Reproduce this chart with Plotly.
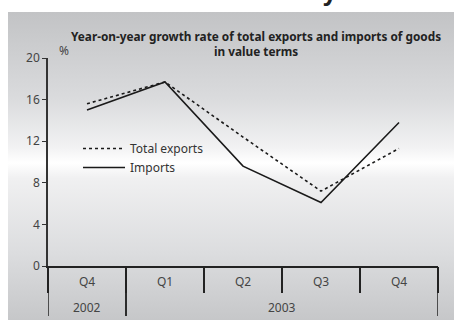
import plotly.graph_objects as go
import urllib.parse

years = ["2002", "2003", "2003", "2003", "2003"]
quarters = ["Q4", "Q1", "Q2", "Q3", "Q4"]
total_exports = [15.6, 17.7, 12.4, 7.2, 11.3]
imports = [15.0, 17.7, 9.6, 6.1, 13.8]
y_ticks = [0, 4, 8, 12, 16, 20]

W, H = 454, 320
L, R, T, B = 48, 16, 58, 54
pw, ph = W - L - R, H - T - B

svg = ("<svg xmlns='http://www.w3.org/2000/svg' width='446' height='308' preserveAspectRatio='none'>"
       "<defs><linearGradient id='g' x1='0' y1='0' x2='0' y2='1'>"
       "<stop offset='0' stop-color='#c2c3c5'/>"
       "<stop offset='0.28' stop-color='#dadbdd'/>"
       "<stop offset='0.44' stop-color='#f2f2f3'/>"
       "<stop offset='0.49' stop-color='#ffffff'/>"
       "<stop offset='0.54' stop-color='#f0f0f1'/>"
       "<stop offset='0.78' stop-color='#dcdddf'/>"
       "<stop offset='1' stop-color='#c6c7c9'/>"
       "</linearGradient></defs><rect width='446' height='308' fill='url(#g)'/></svg>")
src = "data:image/svg+xml;charset=utf-8," + urllib.parse.quote(svg)

font = "Noto Sans"
pos = list(range(len(quarters)))
bounds = [p - 0.5 for p in pos] + [pos[-1] + 0.5]

# year groups
groups = []
for i, yr in enumerate(years):
    if groups and groups[-1][0] == yr:
        groups[-1][2] = i
    else:
        groups.append([yr, i, i])

fig = go.Figure()
fig.add_trace(go.Scatter(x=pos, y=total_exports, mode="lines", name="Total exports",
                         line=dict(color="#1a1a1a", width=1.6, dash="dot")))
fig.add_trace(go.Scatter(x=pos, y=imports, mode="lines", name="Imports",
                         line=dict(color="#1a1a1a", width=1.6)))
# invisible trace to activate the boundary-tick axis
fig.add_trace(go.Scatter(x=[bounds[0]], y=[0], xaxis="x2", mode="markers",
                         marker=dict(opacity=0), showlegend=False, hoverinfo="skip"))

shapes = []
for yr, a, b in groups:
    for xb in (a - 0.5, b + 0.5):
        shapes.append(dict(type="line", xref="x", yref="paper", x0=xb, x1=xb,
                           y0=0, y1=(266 - 316) / ph, line=dict(color="#222", width=1.5)))

annotations = [
    dict(text="<b>Year-on-year growth rate of total exports and imports of goods</b><br><b>in value terms</b>",
         xref="paper", yref="paper", x=(256 - L) / pw, y=(266 - 26) / ph,
         xanchor="center", yanchor="top", showarrow=False,
         font=dict(size=11.8, color="#222", family=font)),
    dict(text="%", xref="paper", yref="paper", x=(57 - L) / pw, y=(266 - 40) / ph,
         xanchor="left", yanchor="top", showarrow=False,
         font=dict(size=12, color="#444")),
    dict(text="<b>y</b>", xref="paper", yref="paper", x=(330 - L) / pw, y=(266 - 9) / ph,
         xanchor="center", yanchor="bottom", showarrow=False,
         font=dict(size=24, color="#222")),
]
for yr, a, b in groups:
    annotations.append(dict(text=yr, xref="x", yref="paper", x=(a + b) / 2, y=(266 - 307) / ph,
                            xanchor="center", yanchor="middle", showarrow=False,
                            font=dict(size=12, color="#444")))

fig.update_layout(
    width=W, height=H,
    margin=dict(l=L, r=R, t=T, b=B, pad=0),
    paper_bgcolor="white", plot_bgcolor="rgba(0,0,0,0)",
    font=dict(family=font, size=12, color="#444"),
    showlegend=True,
    legend=dict(x=(78 - L) / pw, y=(266 - 134) / ph, xanchor="left", yanchor="top",
                bgcolor="rgba(0,0,0,0)", font=dict(size=12, color="#333"),
                tracegroupgap=0, itemwidth=42),
    images=[dict(source=src, xref="paper", yref="paper",
                 x=(8 - L) / pw, y=(266 - 12) / ph, sizex=446 / pw, sizey=308 / ph,
                 xanchor="left", yanchor="top", sizing="stretch", layer="below")],
    xaxis=dict(range=[bounds[0], bounds[-1]], tickvals=pos, ticktext=quarters,
               showline=True, linecolor="#222", linewidth=1.5, ticks="",
               ticklabelstandoff=4,
               showgrid=False, zeroline=False, tickfont=dict(size=12, color="#444")),
    xaxis2=dict(range=[bounds[0], bounds[-1]], overlaying="x", side="bottom", anchor="y",
                tickvals=bounds, showticklabels=False, ticks="outside", ticklen=26,
                tickcolor="#222", tickwidth=1.5, showgrid=False, zeroline=False, showline=False),
    yaxis=dict(range=[0, 20], tickvals=y_ticks, showline=True, linecolor="#333", linewidth=1.5,
               ticks="outside", ticklen=4, tickcolor="#333", tickwidth=1.2,
               showgrid=False, zeroline=False, tickfont=dict(size=12, color="#444")),
    shapes=shapes,
    annotations=annotations,
)

fig.write_html("out.html")
